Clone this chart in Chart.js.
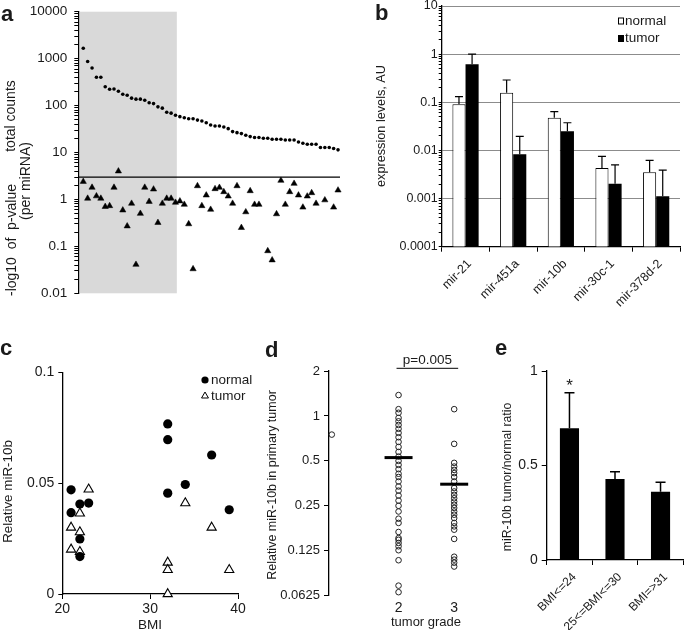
<!DOCTYPE html>
<html>
<head>
<meta charset="utf-8">
<title>miR-10b panels</title>
<script src="https://cdn.jsdelivr.net/npm/chart.js@4.4.1/dist/chart.umd.min.js"></script>
<style>
  html, body { margin: 0; padding: 0; background: #fff; }
  #figure { position: relative; width: 685px; height: 637px; overflow: hidden; background: #fff; }
  #figure canvas { position: absolute; left: 0; top: -20px; }
</style>
</head>
<body>
<div id="figure">
  <canvas id="panelA" width="685" height="657"></canvas>
  <canvas id="panelB" width="685" height="657"></canvas>
  <canvas id="panelC" width="685" height="657"></canvas>
  <canvas id="panelD" width="685" height="657"></canvas>
  <canvas id="panelE" width="685" height="657"></canvas>
</div>
<script>
// ---- a: miRNAs sorted by total counts, with -log10 p-value per miRNA ----
const mirnaCounts = [1670, 871, 630, 400, 400, 252, 223, 225, 202, 174, 166, 144, 137, 137, 130, 115, 110, 94, 88, 72, 69,
  62, 58, 55, 52.5, 52.5, 49, 46.8, 43, 38.5, 36.6, 36.6, 34.9, 32.2, 27.9, 26.5, 25.3, 23.3, 21.8, 20.8, 20.8,
  20.1, 20.1, 19.1, 19.1, 19.1, 18.5, 18.5, 18.5, 16.8, 15.7, 15, 15, 15, 12.8, 12.8, 12.8, 12.2, 11.4];
const mirnaPScores = [2.4, 1.05, 1.8, 1.18, 1.05, 0.7, 0.73, 1.8, 4.0, 0.59, 0.27, 0.82, 0.041, 0.5, 1.8, 0.9, 1.65, 0.32, 0.82, 1.05,
  1.05, 0.86, 0.92, 0.78, 0.30, 0.033, 1.94, 0.73, 1.23, 0.61, 1.68, 1.79, 1.45, 1.17, 0.82, 1.94, 0.25, 0.54, 1.52, 0.78, 0.78,
  null, 0.08, 0.051, 0.49, 2.53, 0.78, 1.45, 2.18, 1.23, 0.68, 1.17, 1.38, 0.82, null, 0.97, null, 0.68, 1.57];
const shadedMirnas = 22;   // first miRNAs inside the grey block
const pCutoff = 3;
const countTicks = [0.01, 0.1, 1, 10, 100, 1000, 10000];

// ---- b: expression levels ----
const mirNames = ['mir-21', 'mir-451a', 'mir-10b', 'mir-30c-1', 'mir-378d-2'];
const normalLevels = [0.091, 0.158, 0.048, 0.0043, 0.0035];
const normalUpper = [0.131, 0.29, 0.064, 0.0075, 0.0062];
const tumorLevels = [0.62, 0.0083, 0.025, 0.00204, 0.00112];
const tumorUpper = [1.0, 0.0195, 0.0376, 0.0050, 0.0039];
const levelTicks = [0.0001, 0.001, 0.01, 0.1, 1, 10];

// ---- c: miR-10b vs BMI ----
const normalBmi = [21, 21, 22, 22, 22, 23, 32, 32, 32, 34, 37, 39];
const normalMir10b = [0.047, 0.0367, 0.0406, 0.0248, 0.0169, 0.041, 0.0767, 0.0696, 0.0455, 0.0494, 0.0627, 0.038];
const tumorBmi = [23, 22, 21, 22, 21, 22, 32, 32, 32, 34, 37, 39];
const tumorMir10b = [0.0472, 0.0364, 0.030, 0.0279, 0.0201, 0.019, 0.0142, 0.0109, 0, 0.041, 0.030, 0.0109];
const bmiTicks = [20, 30, 40];
const relTicks = [0, 0.05, 0.1];

// ---- d: miR-10b by tumor grade ----
const grade2Mir10b = [1.38, 1.11, 1.05, 0.97, 0.92, 0.87, 0.82, 0.77, 0.72, 0.67, 0.62, 0.574, 0.534, 0.50, 0.47, 0.44,
  0.41, 0.39, 0.364, 0.337, 0.316, 0.293, 0.271, 0.25, 0.229, 0.205, 0.192, 0.167, 0.152, 0.148, 0.141, 0.134,
  0.126, 0.108, 0.073, 0.066];
const grade3Mir10b = [1.11, 0.65, 0.485, 0.458, 0.435, 0.414, 0.39, 0.364, 0.329, 0.312, 0.296, 0.281, 0.267,
  0.254, 0.242, 0.229, 0.218, 0.207, 0.192, 0.182, 0.173, 0.15, 0.114, 0.109, 0.104, 0.098];
const gradeMedians = [0.526, 0.349];
const gradeTicks = [2, 3];
const strayPoint = { x: 0.8, y: 0.75 };
const gradeAxisTicks = [0.0625, 0.125, 0.25, 0.5, 1, 2];

// ---- e: tumor/normal ratio by BMI group ----
const bmiGroups = ['BMI<=24', '25<=BMI<=30', 'BMI=>31'];
const ratioValues = [0.697, 0.429, 0.361];
const ratioUpper = [0.885, 0.467, 0.411];
const ratioTicks = [0, 0.5, 1];

// ---- shared setup ----
const OY = 20;                      // canvases sit 20px above the page
const PAGE_W = 685, CAN_H = 657;
const FONT = "'Liberation Sans', Arial, sans-serif";
const INK = '#1a1a1a';

Chart.defaults.font.family = FONT;
Chart.defaults.color = INK;
Chart.defaults.animation = false;
Chart.defaults.responsive = false;
Chart.defaults.events = [];
Chart.defaults.plugins.legend.display = false;
Chart.defaults.plugins.tooltip.enabled = false;

function frame(area, wy, hx) {
    return {
        padding: {
            left: area.l - wy,
            top: area.t + OY,
            right: PAGE_W - area.r,
            bottom: CAN_H - (area.b + OY) - hx,
        },
    };
}

function fixed(values) {
    return (scale) => { scale.ticks = values.map(v => ({ value: v })); };
}

function withMinors(majors) {
    const out = [];
    majors.forEach((m, i) => {
        out.push(m);
        if (i < majors.length - 1) {
            for (let k = 2; k <= 9; k++) out.push(+(m * k).toPrecision(6));
        }
    });
    return out;
}

const axisBorder = { display: true, color: '#000', width: 1.3 };
function tickMarks(len) {
    return { display: true, drawOnChartArea: false, drawTicks: true, tickLength: len, color: '#000', tickColor: '#000', lineWidth: 1 };
}

function textLayer(items) {
    return {
        id: 'textLayer',
        afterDraw(chart) {
            const ctx = chart.ctx;
            items.forEach(it => {
                ctx.save();
                ctx.font = (it.weight || 'normal') + ' ' + it.size + 'px ' + FONT;
                ctx.fillStyle = INK;
                ctx.textAlign = it.align || 'center';
                ctx.textBaseline = it.base || 'middle';
                ctx.translate(it.x, it.y + OY);
                if (it.rot) ctx.rotate(it.rot * Math.PI / 180);
                ctx.fillText(it.text, 0, 0);
                ctx.restore();
            });
        },
    };
}

function errorBars(uppers, cap, width) {
    return {
        id: 'errorBars',
        afterDatasetsDraw(chart) {
            const { ctx, scales: { y } } = chart;
            ctx.save();
            ctx.strokeStyle = '#000';
            ctx.lineWidth = width;
            uppers.forEach((arr, di) => {
                chart.getDatasetMeta(di).data.forEach((bar, i) => {
                    const top = y.getPixelForValue(arr[i]);
                    ctx.beginPath();
                    ctx.moveTo(bar.x, bar.y);
                    ctx.lineTo(bar.x, top);
                    ctx.moveTo(bar.x - cap / 2, top);
                    ctx.lineTo(bar.x + cap / 2, top);
                    ctx.stroke();
                });
            });
            ctx.restore();
        },
    };
}

// ─── a ───
const AREA_A = { l: 78.3, t: 11.7, r: 340, b: 293.3 };
const shadePlugin = {
    id: 'shade',
    beforeDatasetsDraw(chart) {
        const { ctx, chartArea: ca, scales: { x, y } } = chart;
        const x0 = x.getPixelForValue(-0.75);
        const x1 = x.getPixelForValue(shadedMirnas - 0.7);
        ctx.save();
        ctx.fillStyle = '#d9d9d9';
        ctx.fillRect(x0, ca.top, x1 - x0, ca.bottom - ca.top);
        const yl = y.getPixelForValue(pCutoff);
        ctx.strokeStyle = '#000';
        ctx.lineWidth = 1.3;
        ctx.beginPath();
        ctx.moveTo(ca.left, yl);
        ctx.lineTo(ca.right, yl);
        ctx.stroke();
        ctx.restore();
    },
};

new Chart(document.getElementById('panelA'), {
    type: 'scatter',
    data: {
        datasets: [
            {
                data: mirnaCounts.map((v, i) => ({ x: i, y: v })),
                pointStyle: 'circle', pointRadius: 1.8, pointBackgroundColor: '#000', pointBorderWidth: 0, clip: false,
            },
            {
                data: mirnaPScores.map((v, i) => ({ x: i, y: v })).filter(p => p.y !== null),
                pointStyle: 'triangle', pointRadius: 3.6, pointBackgroundColor: '#000', pointBorderColor: '#000', pointBorderWidth: 0.5, clip: false,
            },
        ],
    },
    options: {
        layout: frame(AREA_A, 60, 0),
        scales: {
            x: { type: 'linear', min: -1.13, max: 58.45, display: false },
            y: {
                type: 'logarithmic', min: 0.01, max: 10000,
                afterBuildTicks: fixed(withMinors(countTicks)),
                afterFit: (s) => { s.width = 60; },
                ticks: { autoSkip: false, padding: 7, font: { size: 13.5 }, callback: (v) => countTicks.includes(v) ? String(v) : '' },
                grid: tickMarks(4),
                border: axisBorder,
            },
        },
    },
    plugins: [shadePlugin, textLayer([
        { text: 'a', x: 1, y: 20.7, size: 22, weight: 'bold', align: 'left', base: 'alphabetic' },
        { text: 'total counts', x: 11.5, y: 116, size: 14, rot: -90 },
        { text: '(per miRNA)', x: 26, y: 181, size: 14, rot: -90 },
        { text: '-log10  of  p-value', x: 12, y: 240, size: 14, rot: -90 },
    ])],
});

// ─── b ───
const AREA_B = { l: 441.7, t: 6, r: 680, b: 246.7 };
const legendB = {
    id: 'legendB',
    afterDraw(chart) {
        const { ctx, chartArea: ca } = chart;
        const bx = ca.right - 62;
        ctx.save();
        ctx.font = '13.5px ' + FONT;
        ctx.textBaseline = 'middle';
        ctx.textAlign = 'left';
        [['normal', '#fff', ca.top + 15], ['tumor', '#000', ca.top + 32.5]].forEach(([label, fill, cy]) => {
            ctx.fillStyle = fill;
            ctx.strokeStyle = '#000';
            ctx.lineWidth = 1;
            ctx.fillRect(bx, cy - 3.5, 6, 7);
            ctx.strokeRect(bx + 0.5, cy - 3, 5, 6);
            ctx.fillStyle = INK;
            ctx.fillText(label, bx + 7, cy);
        });
        ctx.restore();
    },
};

new Chart(document.getElementById('panelB'), {
    type: 'bar',
    data: {
        labels: mirNames,
        datasets: [
            { label: 'normal', data: normalLevels, backgroundColor: '#fff', borderColor: '#000', borderWidth: 1 },
            { label: 'tumor', data: tumorLevels, backgroundColor: '#000', borderColor: '#000', borderWidth: 0 },
        ],
    },
    options: {
        layout: frame(AREA_B, 60, 70),
        datasets: { bar: { categoryPercentage: 0.55, barPercentage: 1.0 } },
        scales: {
            x: {
                afterFit: (s) => { s.height = 70; },
                ticks: { minRotation: 45, maxRotation: 45, autoSkip: false, padding: 5, labelOffset: 4, font: { size: 12.5 } },
                grid: { ...tickMarks(5), offset: true },
                border: axisBorder,
            },
            y: {
                type: 'logarithmic', min: 0.0001, max: 10,
                afterBuildTicks: fixed(withMinors(levelTicks)),
                afterFit: (s) => { s.width = 60; },
                ticks: { autoSkip: false, padding: 1, font: { size: 12.5 }, callback: (v) => levelTicks.includes(v) ? String(v) : '' },
                grid: {
                    display: true, drawOnChartArea: true, drawTicks: true, tickLength: 3,
                    color: (c) => (c.tick && levelTicks.includes(c.tick.value)) ? '#8c8c8c' : 'rgba(0,0,0,0)',
                    tickColor: '#000', lineWidth: 1,
                },
                border: axisBorder,
            },
        },
    },
    plugins: [errorBars([normalUpper, tumorUpper], 8, 1.2), legendB, textLayer([
        { text: 'b', x: 375, y: 20, size: 22, weight: 'bold', align: 'left', base: 'alphabetic' },
        { text: 'expression levels, AU', x: 381, y: 126, size: 12.7, rot: -90 },
    ])],
});

// ─── c ───
const AREA_C = { l: 62.3, t: 372.3, r: 238, b: 594 };
const legendC = {
    id: 'legendC',
    afterDraw(chart) {
        const ctx = chart.ctx;
        const mx = 205;
        ctx.save();
        ctx.font = '13.5px ' + FONT;
        ctx.textBaseline = 'middle';
        ctx.textAlign = 'left';
        ctx.fillStyle = '#000';
        ctx.beginPath();
        ctx.arc(mx, 380 + OY, 3.6, 0, Math.PI * 2);
        ctx.fill();
        const ty = 396 + OY, r = 4;
        ctx.beginPath();
        ctx.moveTo(mx, ty - r);
        ctx.lineTo(mx + r * 0.866, ty + r / 2);
        ctx.lineTo(mx - r * 0.866, ty + r / 2);
        ctx.closePath();
        ctx.lineWidth = 1;
        ctx.strokeStyle = '#000';
        ctx.stroke();
        ctx.fillStyle = INK;
        ctx.fillText('normal', mx + 6, 380 + OY);
        ctx.fillText('tumor', mx + 6, 396 + OY);
        ctx.restore();
    },
};

new Chart(document.getElementById('panelC'), {
    type: 'scatter',
    data: {
        datasets: [
            {
                data: normalBmi.map((b, i) => ({ x: b, y: normalMir10b[i] })),
                pointStyle: 'circle', pointRadius: 4.6, pointBackgroundColor: '#000', pointBorderWidth: 0, clip: false,
            },
            {
                data: tumorBmi.map((b, i) => ({ x: b, y: tumorMir10b[i] })),
                pointStyle: 'triangle', pointRadius: 5.3, pointBackgroundColor: '#fff', pointBorderColor: '#000', pointBorderWidth: 1.1, clip: false,
            },
        ],
    },
    options: {
        layout: frame(AREA_C, 60, 30),
        scales: {
            x: {
                type: 'linear', min: 20, max: 40,
                afterBuildTicks: fixed(bmiTicks),
                afterFit: (s) => { s.height = 30; },
                ticks: { padding: 2, font: { size: 14 } },
                grid: tickMarks(5),
                border: axisBorder,
            },
            y: {
                type: 'linear', min: 0, max: 0.1,
                afterBuildTicks: fixed(relTicks),
                afterFit: (s) => { s.width = 60; },
                ticks: { padding: 4, font: { size: 14 }, callback: (v) => String(v) },
                grid: tickMarks(4),
                border: axisBorder,
            },
        },
    },
    plugins: [legendC, textLayer([
        { text: 'c', x: 0, y: 355, size: 22, weight: 'bold', align: 'left', base: 'alphabetic' },
        { text: 'Relative miR-10b', x: 8, y: 491.5, size: 13.4, rot: -90 },
        { text: 'BMI', x: 150, y: 625, size: 13.5 },
    ])],
});

// ─── d ───
const AREA_D = { l: 329, t: 371, r: 482, b: 595.7 };
const openCircle = { pointStyle: 'circle', pointRadius: 2.8, pointBackgroundColor: 'rgba(0,0,0,0)', pointBorderColor: '#222', pointBorderWidth: 1, clip: false };
const mediansPlugin = {
    id: 'medians',
    afterDatasetsDraw(chart) {
        const { ctx, scales: { x, y } } = chart;
        ctx.save();
        ctx.strokeStyle = '#000';
        ctx.lineWidth = 3;
        gradeTicks.forEach((g, i) => {
            const px = x.getPixelForValue(g), py = y.getPixelForValue(gradeMedians[i]);
            ctx.beginPath();
            ctx.moveTo(px - 14, py);
            ctx.lineTo(px + 14, py);
            ctx.stroke();
        });
        // p-value bracket above the two grades
        const x2 = x.getPixelForValue(gradeTicks[0]), x3 = x.getPixelForValue(gradeTicks[1]);
        ctx.lineWidth = 1;
        ctx.beginPath();
        ctx.moveTo(x2 - 2, 368.3 + OY);
        ctx.lineTo(x3 + 4, 368.3 + OY);
        ctx.stroke();
        ctx.fillStyle = INK;
        ctx.font = '13.5px ' + FONT;
        ctx.textAlign = 'center';
        ctx.textBaseline = 'middle';
        ctx.fillText('p=0.005', (x2 + x3) / 2 + 1, 360 + OY);
        ctx.restore();
    },
};

new Chart(document.getElementById('panelD'), {
    type: 'scatter',
    data: {
        datasets: [
            { data: grade2Mir10b.map(v => ({ x: gradeTicks[0], y: v })), ...openCircle },
            { data: grade3Mir10b.map(v => ({ x: gradeTicks[1], y: v })), ...openCircle },
            { data: [strayPoint], ...openCircle },
        ],
    },
    options: {
        layout: frame(AREA_D, 60, 25),
        scales: {
            x: {
                type: 'linear', min: 0.75, max: 3.5,
                afterBuildTicks: fixed(gradeTicks),
                afterFit: (s) => { s.height = 25; },
                ticks: { padding: 4, font: { size: 14 } },
                grid: { display: false, drawTicks: false },
                border: { display: false },
            },
            y: {
                type: 'logarithmic', min: 0.0625, max: 2,
                afterBuildTicks: fixed(gradeAxisTicks),
                afterFit: (s) => { s.width = 60; },
                ticks: { autoSkip: false, padding: 4, font: { size: 13 }, callback: (v) => String(v) },
                grid: tickMarks(5),
                border: axisBorder,
            },
        },
    },
    plugins: [mediansPlugin, textLayer([
        { text: 'd', x: 265, y: 357, size: 22, weight: 'bold', align: 'left', base: 'alphabetic' },
        { text: 'Relative miR-10b in primary tumor', x: 272.5, y: 485, size: 12.5, rot: -90 },
        { text: 'tumor grade', x: 426, y: 622, size: 13 },
    ])],
});

// ─── e ───
const AREA_E = { l: 546.7, t: 371, r: 683.3, b: 560 };
const starPlugin = {
    id: 'star',
    afterDatasetsDraw(chart) {
        const { ctx, scales: { y } } = chart;
        const bar = chart.getDatasetMeta(0).data[0];
        ctx.save();
        ctx.fillStyle = INK;
        ctx.font = '17px ' + FONT;
        ctx.textAlign = 'center';
        ctx.textBaseline = 'alphabetic';
        ctx.fillText('*', bar.x, y.getPixelForValue(ratioUpper[0]) - 2);
        ctx.restore();
    },
};

new Chart(document.getElementById('panelE'), {
    type: 'bar',
    data: {
        labels: bmiGroups,
        datasets: [{ data: ratioValues, backgroundColor: '#000', borderWidth: 0, categoryPercentage: 1, barPercentage: 0.42 }],
    },
    options: {
        layout: frame(AREA_E, 60, 70),
        scales: {
            x: {
                afterFit: (s) => { s.height = 70; },
                ticks: { minRotation: 45, maxRotation: 45, autoSkip: false, padding: 5, labelOffset: 5, font: { size: 12 } },
                grid: { ...tickMarks(5), offset: true },
                border: axisBorder,
            },
            y: {
                type: 'linear', min: 0, max: 1,
                afterBuildTicks: fixed(ratioTicks),
                afterFit: (s) => { s.width = 60; },
                ticks: { padding: 4, font: { size: 14 }, callback: (v) => String(v) },
                grid: tickMarks(5),
                border: axisBorder,
            },
        },
    },
    plugins: [errorBars([ratioUpper], 10, 1.5), starPlugin, textLayer([
        { text: 'e', x: 495, y: 355, size: 22, weight: 'bold', align: 'left', base: 'alphabetic' },
        { text: 'miR-10b tumor/normal ratio', x: 508, y: 477, size: 12.2, rot: -90 },
    ])],
});
</script>
</body>
</html>
